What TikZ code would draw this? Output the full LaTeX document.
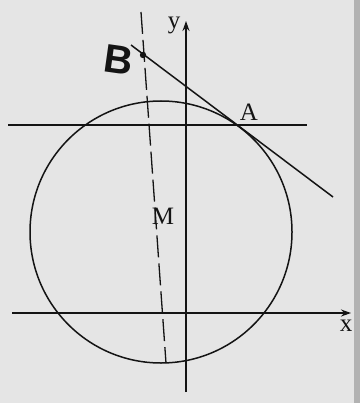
\documentclass[tikz,border=0pt]{standalone}
\usepackage{fontspec}
\setmainfont{Liberation Serif}
\newfontfamily\handfont{Liberation Sans}
\usetikzlibrary{arrows.meta,calc}
\definecolor{paper}{RGB}{229,229,229}
\definecolor{ink}{RGB}{20,20,20}
\begin{document}
\begin{tikzpicture}[x=1pt,y=-1pt,
  line/.style={draw=ink,line width=1.5pt},
  axis/.style={line,-{Stealth[length=10pt,width=7pt]}},
  dashline/.style={draw=ink,line width=1.3pt,dash pattern=on 22pt off 6pt},
  lbl/.style={text=ink,inner sep=0pt,font=\fontsize{25}{25}\selectfont}]
\fill[paper] (0,0) rectangle (360,403);
\fill[black!30] (354,0) rectangle (360,403);
\useasboundingbox (0,0) rectangle (360,403);
% key points
\coordinate (M) at (161,232);
\coordinate (A) at (239.5,127);
\coordinate (B) at (143,55);
\coordinate (dTop) at (141,12);
\coordinate (dBot) at (166,363);
\coordinate (tStart) at (131,45);
\coordinate (tEnd) at (333,197);
\coordinate (yFrom) at (186,392);
\coordinate (yTo) at (186,21);
\coordinate (xFrom) at (12,313);
\coordinate (xTo) at (351,313);
\coordinate (hL) at (8,125);
\coordinate (hR) at (307,125);
% circle
\draw[line] (M) circle[radius=131];
% lines
\draw[line] (hL) -- (hR);
\draw[axis] (xFrom) -- (xTo);
\draw[axis] (yFrom) -- (yTo);
\draw[dashline] (dTop) -- (dBot);
\draw[line] (tStart) -- (tEnd);
\fill[ink] (B) circle[radius=3.2];
% labels
\node[lbl] (lA) at (249,112) {A};
\node[lbl] (lM) at (163,216) {M};
\node[lbl] (ly) at (174,25) {y};
\node[lbl] (lx) at (346,326) {x};
\node[text=ink,inner sep=0pt,rotate=-8,font=\handfont\bfseries\fontsize{40}{40}\selectfont] (lB) at (119,60) {B};
\end{tikzpicture}
\end{document}
